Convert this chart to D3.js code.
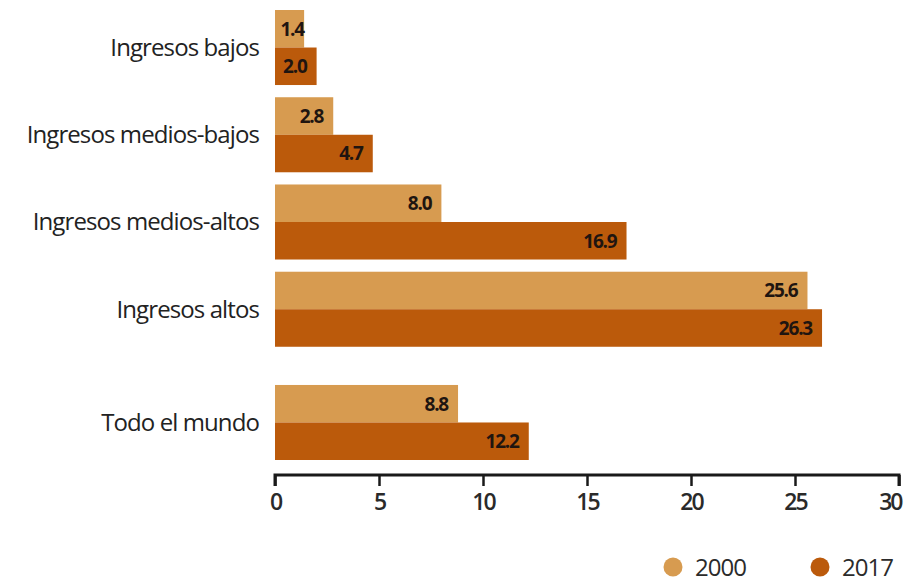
<!DOCTYPE html>
<html>
<head>
<meta charset="utf-8">
<script src="https://cdn.jsdelivr.net/npm/d3@7"></script>
<style>
  body { margin: 0; background: #fff; }
  svg { display: block; }
</style>
</head>
<body>
<script>
// data
const categories = ["Ingresos bajos", "Ingresos medios-bajos", "Ingresos medios-altos", "Ingresos altos", "Todo el mundo"];
const series = ["2000", "2017"];
const values2000 = [1.4, 2.8, 8.0, 25.6, 8.8];
const values2017 = [2.0, 4.7, 16.9, 26.3, 12.2];
const xTicks = [0, 5, 10, 15, 20, 25, 30];

const colors = { "2000": "#d79b50", "2017": "#bb5a0b" };

let w = 905;
let h = 582;

const rows = categories.map(function(c, i) {
  return { cat: c, vals: [ { s: "2000", v: values2000[i] }, { s: "2017", v: values2017[i] } ] };
});

var svg = d3.select("body")
  .append("svg")
  .attr("width", w)
  .attr("height", h);

var x = d3.scaleLinear().domain([0, 30]).range([275, 899]);

var y = d3.scaleBand()
  .domain(categories)
  .range([10, 434])
  .paddingInner(0.14);

// "Todo el mundo" sits a bit lower than the others
function groupTop(c) {
  return y(c) + (c === "Todo el mundo" ? 26 : 0);
}

var yInner = d3.scaleBand().domain(series).range([0, y.bandwidth()]);

var groups = svg.selectAll("g.group")
  .data(rows)
  .enter()
  .append("g")
  .attr("class", "group")
  .attr("transform", function(d) { return "translate(0," + groupTop(d.cat) + ")"; });

groups.append("text")
  .attr("x", 259)
  .attr("y", y.bandwidth() / 2)
  .attr("dy", "0.35em")
  .attr("text-anchor", "end")
  .attr("font-family", "Open Sans")
  .attr("font-size", 24)
  .attr("letter-spacing", -0.9)
  .attr("fill", "#222")
  .text(function(d) { return d.cat; });

groups.selectAll("rect")
  .data(function(d) { return d.vals; })
  .enter()
  .append("rect")
  .attr("x", x(0))
  .attr("y", function(d) { return yInner(d.s); })
  .attr("width", function(d) { return x(d.v) - x(0); })
  .attr("height", yInner.bandwidth())
  .attr("fill", function(d) { return colors[d.s]; });

groups.selectAll("text.val")
  .data(function(d) { return d.vals; })
  .enter()
  .append("text")
  .attr("class", "val")
  .attr("x", function(d) { return Math.max(x(d.v) - 10, x(0) + 29); })
  .attr("y", function(d) { return yInner(d.s) + yInner.bandwidth() / 2; })
  .attr("dy", "0.36em")
  .attr("text-anchor", "end")
  .attr("font-family", "Open Sans")
  .attr("font-weight", "bold")
  .attr("font-size", 19)
  .attr("letter-spacing", -1.2)
  .attr("fill", "#1f1510")
  .text(function(d) { return d.v.toFixed(1); });

// axis
var axis = svg.append("g")
  .attr("transform", "translate(0,475)")
  .call(d3.axisBottom(x).tickValues(xTicks).tickSize(11).tickPadding(8).tickFormat(d3.format("d")));

axis.select(".domain")
  .attr("d", "M" + x(0) + ",11V0H" + x(30) + "V11")
  .attr("stroke", "#1a1a1a")
  .attr("stroke-width", 3);
axis.selectAll(".tick line").attr("stroke", "#1a1a1a").attr("stroke-width", 2.5);
axis.selectAll(".tick text")
  .attr("font-family", "Open Sans")
  .attr("font-size", 23)
  .attr("font-weight", 600)
  .attr("letter-spacing", -2)
  .attr("fill", "#2a2a2a")
  .attr("text-anchor", function(d) { return d === 30 ? "end" : "middle"; })
  .attr("dx", function(d) { return d === 30 ? 2 : 0; });

// legend
var legend = svg.selectAll("g.legend")
  .data(series)
  .enter()
  .append("g")
  .attr("class", "legend")
  .attr("transform", function(d, i) { return "translate(" + (673 + i * 147) + ",567)"; });

legend.append("circle")
  .attr("r", 9.5)
  .attr("fill", function(d) { return colors[d]; });

legend.append("text")
  .attr("x", 22)
  .attr("dy", "0.36em")
  .attr("font-family", "Open Sans")
  .attr("font-size", 24)
  .attr("letter-spacing", -1)
  .attr("fill", "#2b2b2b")
  .text(function(d) { return d; });
</script>
</body>
</html>
